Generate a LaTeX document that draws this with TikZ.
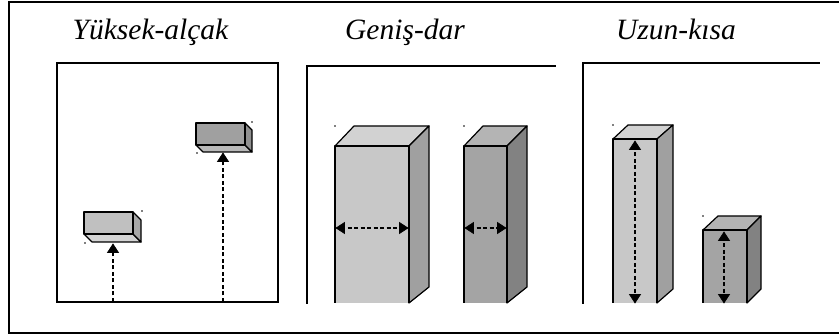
\documentclass[tikz,border=0pt]{standalone}
\usepackage{fontspec}
\setmainfont{Liberation Serif}
\definecolor{gA}{HTML}{C8C8C8}
\definecolor{gAt}{HTML}{D2D2D2}
\definecolor{gAs}{HTML}{A0A0A0}
\definecolor{gB}{HTML}{A4A4A4}
\definecolor{gBt}{HTML}{B4B4B4}
\definecolor{gBs}{HTML}{828282}
\definecolor{gC}{HTML}{C0C0C0}
\definecolor{gCb}{HTML}{D4D4D4}
\definecolor{gCs}{HTML}{A8A8A8}
\definecolor{gD}{HTML}{A0A0A0}
\definecolor{gDb}{HTML}{B8B8B8}
\definecolor{gDs}{HTML}{909090}
\tikzset{
  frameline/.style={line width=1.6pt, line cap=rect},
  panelline/.style={line width=1.3pt, line cap=rect},
  face/.style={draw=black, line width=1.2pt, line join=round},
  dimline/.style={line width=1.4pt, dash pattern=on 4pt off 2.5pt},
  headfill/.style={fill=black, draw=black, line width=0.6pt, line join=miter},
  ttl/.style={font=\fontsize{29.5}{31}\selectfont\itshape, anchor=base, inner sep=0pt},
  dot/.style={circle, fill=black, inner sep=0pt, minimum size=1.8pt}
}
\begin{document}
\begin{tikzpicture}[x=1pt, y=-1pt]
\useasboundingbox (0,0) rectangle (839,336);
% outer frame
\coordinate (oTR) at (840,2);
\coordinate (oTL) at (9,2);
\coordinate (oBL) at (9,333);
\coordinate (oBR) at (840,333);
\draw[frameline] (oTR) -- (oTL) -- (oBL) -- (oBR);
% titles
\node[ttl] (t1) at (150.5,40) {Yüksek-alçak};
\node[ttl] (t2) at (405,40) {Geniş-dar};
\node[ttl] (t3) at (676,40) {Uzun-kısa};
% panel 1
\draw[panelline] (57,63) rectangle (278,302);
% block low
\fill[gC] (84,212) rectangle (133,234);
\draw[face, fill=gCb] (84,234) -- (133,234) -- (141,242) -- (92,242) -- cycle;
\draw[face, fill=gCs] (133,212) -- (141,220) -- (141,242) -- (133,234) -- cycle;
\draw[face] (84,212) rectangle (133,234);
% block high
\fill[gD] (196,123) rectangle (245,145);
\draw[face, fill=gDb] (196,145) -- (245,145) -- (252,152) -- (203,152) -- cycle;
\draw[face, fill=gDs] (245,123) -- (252,130) -- (252,152) -- (245,145) -- cycle;
\draw[face] (196,123) rectangle (245,145);
\node[dot] (d1) at (142,211) {};
\node[dot] (d2) at (85,243) {};
\node[dot] (d3) at (252,122) {};
\node[dot] (d4) at (197,153) {};
\coordinate (a1s) at (113,302);
\coordinate (a1e) at (113,250);
\coordinate (a2s) at (223,302);
\coordinate (a2e) at (223,159);
\draw[dimline] (a1s) -- (a1e);
\draw[dimline] (a2s) -- (a2e);
\fill[headfill] (113,244) -- (107.5,252.5) -- (118.5,252.5) -- cycle;
\fill[headfill] (223,153) -- (217.5,161.5) -- (228.5,161.5) -- cycle;
% panel 2
\draw[panelline] (555,66) -- (307,66) -- (307,303);
% wide box
\draw[face, fill=gAt] (335,146) -- (354,126) -- (429,126) -- (409,146) -- cycle;
\draw[face, fill=gAs] (409,146) -- (429,126) -- (429,287) -- (409,303) -- cycle;
\draw[face, fill=gA] (335,303) -- (335,146) -- (409,146) -- (409,303);
% narrow box
\draw[face, fill=gBt] (464,146) -- (483,126) -- (527,126) -- (507,146) -- cycle;
\draw[face, fill=gBs] (507,146) -- (527,126) -- (527,287) -- (507,303) -- cycle;
\draw[face, fill=gB] (464,303) -- (464,146) -- (507,146) -- (507,303);
\node[dot] (d5) at (335,126) {};
\node[dot] (d6) at (464,126) {};
\coordinate (w1l) at (341,228);
\coordinate (w1r) at (403,228);
\coordinate (w2l) at (470,228);
\coordinate (w2r) at (501,228);
\draw[dimline] (w1l) -- (w1r);
\draw[dimline] (w2l) -- (w2r);
\fill[headfill] (336,228) -- (344.5,222.5) -- (344.5,233.5) -- cycle;
\fill[headfill] (408,228) -- (399.5,222.5) -- (399.5,233.5) -- cycle;
\fill[headfill] (465,228) -- (473.5,222.5) -- (473.5,233.5) -- cycle;
\fill[headfill] (506,228) -- (497.5,222.5) -- (497.5,233.5) -- cycle;
% panel 3
\draw[panelline] (819,63) -- (583,63) -- (583,303);
% tall box
\draw[face, fill=gAt] (613,139) -- (628,125) -- (673,125) -- (657,139) -- cycle;
\draw[face, fill=gAs] (657,139) -- (673,125) -- (673,289) -- (657,303) -- cycle;
\draw[face, fill=gA] (613,303) -- (613,139) -- (657,139) -- (657,303);
% short box
\draw[face, fill=gBt] (703,230) -- (718,216) -- (761,216) -- (747,230) -- cycle;
\draw[face, fill=gBs] (747,230) -- (761,216) -- (761,289) -- (747,303) -- cycle;
\draw[face, fill=gB] (703,303) -- (703,230) -- (747,230) -- (747,303);
\node[dot] (d7) at (613,125) {};
\node[dot] (d8) at (703,216) {};
\coordinate (h1t) at (635,146);
\coordinate (h1b) at (635,297);
\coordinate (h2t) at (724,237);
\coordinate (h2b) at (724,297);
\draw[dimline] (h1t) -- (h1b);
\draw[dimline] (h2t) -- (h2b);
\fill[headfill] (635,141) -- (629.5,149.5) -- (640.5,149.5) -- cycle;
\fill[headfill] (635,303) -- (629.5,294.5) -- (640.5,294.5) -- cycle;
\fill[headfill] (724,232) -- (718.5,240.5) -- (729.5,240.5) -- cycle;
\fill[headfill] (724,303) -- (718.5,294.5) -- (729.5,294.5) -- cycle;
\end{tikzpicture}
\end{document}
